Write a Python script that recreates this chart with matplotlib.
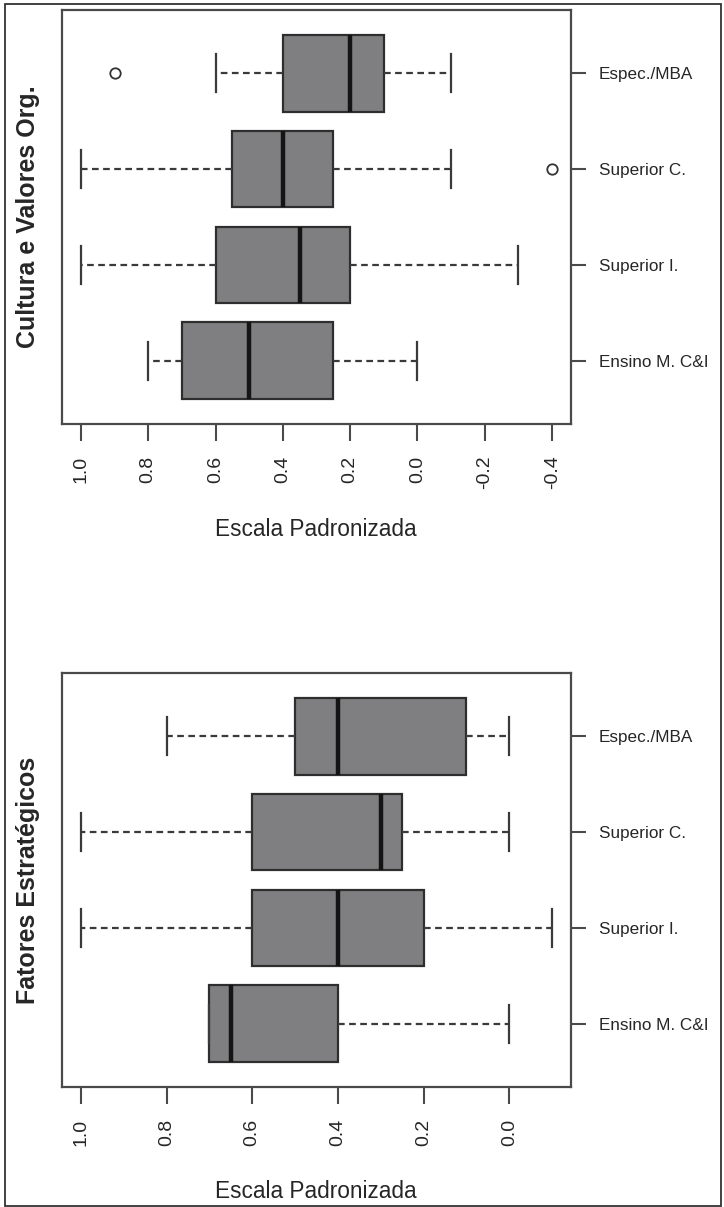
import matplotlib
matplotlib.use("Agg")
import matplotlib.pyplot as plt
from matplotlib import font_manager
from matplotlib.patches import Rectangle

# Group labels, bottom to top
groups = ["Ensino M. C&I", "Superior I.", "Superior C.", "Espec./MBA"]

# Panel 1: Cultura e Valores Org. (min, Q1, median, Q3, max)
cult_min = [0.0, -0.3, -0.1, -0.1]
cult_q1 = [0.25, 0.2, 0.25, 0.1]
cult_med = [0.5, 0.35, 0.4, 0.2]
cult_q3 = [0.7, 0.6, 0.55, 0.4]
cult_max = [0.8, 1.0, 1.0, 0.6]
cult_out = [[], [], [-0.4], [0.9]]

# Panel 2: Fatores Estratégicos
fat_min = [0.0, -0.1, 0.0, 0.0]
fat_q1 = [0.4, 0.2, 0.25, 0.1]
fat_med = [0.65, 0.4, 0.3, 0.4]
fat_q3 = [0.7, 0.6, 0.6, 0.5]
fat_max = [0.7, 1.0, 1.0, 0.8]
fat_out = [[], [], [], []]

cult_ticks = [1.0, 0.8, 0.6, 0.4, 0.2, 0.0, -0.2, -0.4]
fat_ticks = [1.0, 0.8, 0.6, 0.4, 0.2, 0.0]

names = {f.name for f in font_manager.fontManager.ttflist}
NARROW = "Liberation Sans Narrow" in names
label_family = ["Liberation Sans Narrow"] if NARROW else ["Liberation Sans"]
cat_size = 14 if NARROW else 12.3
xlab_size = 19 if NARROW else 16.3

TXT = "#262626"
FRAME = "#4a4a4a"

W, H = 724, 1207
fig = plt.figure(figsize=(W / 100, H / 100), dpi=100)
fig.patches.append(Rectangle((5 / W, 1 - 1206 / H), 716 / W, 1202 / H,
                             transform=fig.transFigure, fill=False,
                             lw=1.3, ec="#333333"))


def panel(top_px, mins, q1, med, q3, maxs, outs, ticks, title):
    ax = fig.add_axes([62 / W, 1 - (top_px + 414) / H, 509 / W, 414 / H])
    stats = []
    for i in range(len(groups)):
        stats.append(dict(whislo=mins[i], q1=q1[i], med=med[i], q3=q3[i],
                          whishi=maxs[i], fliers=outs[i], label=groups[i]))
    ax.bxp(stats, positions=[1, 2, 3, 4], widths=0.8, capwidths=0.4,
           orientation="horizontal", patch_artist=True, showfliers=True,
           boxprops=dict(facecolor="#7f7f81", edgecolor="#2e2e2e", lw=1.6),
           medianprops=dict(color="#141414", lw=3.2, solid_capstyle="butt"),
           whiskerprops=dict(color="#3a3a3a", lw=1.6, linestyle=(0, (3, 2))),
           capprops=dict(color="#3a3a3a", lw=1.6),
           flierprops=dict(marker="o", markersize=7.5, markerfacecolor="none",
                           markeredgecolor="#333333", markeredgewidth=1.3))
    # Axis range spans all data values, padded by 4% on each side
    every = list(mins) + list(maxs) + [v for o in outs for v in o]
    lo, hi = min(every), max(every)
    span = hi - lo
    ax.set_xlim(hi + 0.04 * span, lo - 0.04 * span)
    ax.set_ylim(0.34, 4.66)
    ax.set_xticks(ticks)
    ax.set_xticklabels([f"{t:.1f}".replace("-0.0", "0.0") for t in ticks],
                       rotation=90, fontsize=14, family="Liberation Sans",
                       color=TXT)
    ax.tick_params(axis="x", length=12.2, width=1.5, color=FRAME, pad=10.5)
    ax.yaxis.tick_right()
    ax.set_yticks([1, 2, 3, 4])
    ax.set_yticklabels(groups, fontsize=cat_size, family=label_family,
                       color=TXT)
    ax.tick_params(axis="y", length=11, width=1.5, color=FRAME, pad=9)
    for s in ax.spines.values():
        s.set_color(FRAME)
        s.set_linewidth(1.6)
    cy = top_px + 207
    fig.text(28 / W, 1 - cy / H, title, rotation=90, ha="center",
             va="center", fontsize=18, fontweight="bold",
             family="Liberation Sans", color=TXT)
    fig.text(316 / W, 1 - (top_px + 519) / H, "Escala Padronizada",
             ha="center", va="center", fontsize=xlab_size,
             family=label_family, color=TXT)
    return ax


panel(10, cult_min, cult_q1, cult_med, cult_q3, cult_max, cult_out,
      cult_ticks, "Cultura e Valores Org.")
panel(673, fat_min, fat_q1, fat_med, fat_q3, fat_max, fat_out,
      fat_ticks, "Fatores Estratégicos")

fig.savefig("out.png", dpi=100)
